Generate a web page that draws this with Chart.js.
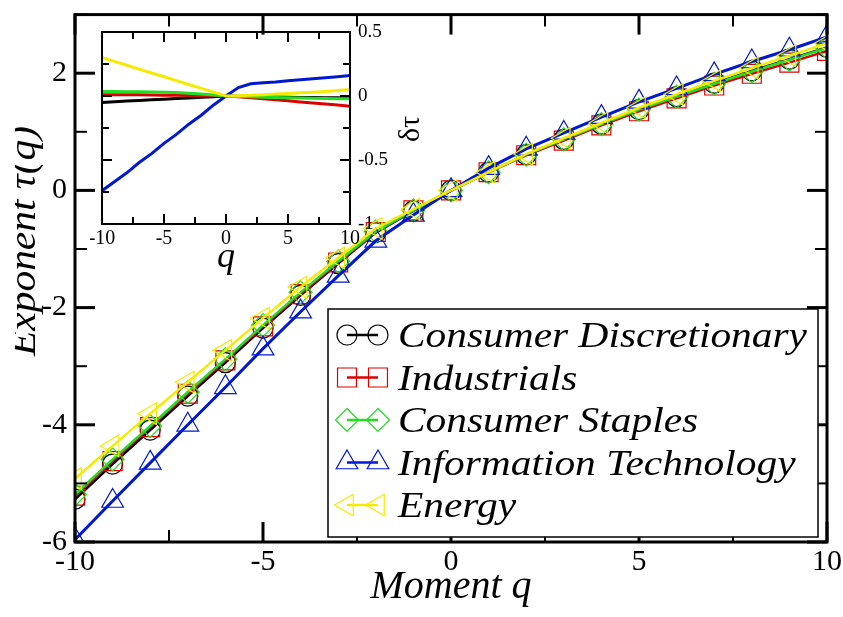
<!DOCTYPE html>
<html>
<head>
<meta charset="utf-8">
<title>Exponent tau(q)</title>
<script src="https://cdn.jsdelivr.net/npm/chart.js@4.4.1/dist/chart.umd.min.js"></script>
<style>
    body { margin: 0; background: #ffffff; }
    #wrap { position: relative; width: 843px; height: 617px; }
    #main { position: absolute; left: 0; top: 0; }
    #inset { position: absolute; left: 90px; top: 20px; }
</style>
</head>
<body>
<div id="wrap">
    <canvas id="main" width="843" height="617"></canvas>
    <canvas id="inset" width="345" height="270"></canvas>
</div>
<script>
// moments
var q = [-10, -9, -8, -7, -6, -5, -4, -3, -2, -1, 0, 1, 2, 3, 4, 5, 6, 7, 8, 9, 10];

var seriesNames = ['Consumer Discretionary', 'Industrials', 'Consumer Staples', 'Information Technology', 'Energy'];

// tau(q), main plot
var tauDiscretionary = [-5.27, -4.67, -4.09, -3.51, -2.94, -2.35, -1.79, -1.25, -0.72, -0.35, 0, 0.31, 0.61, 0.87, 1.13, 1.38, 1.60, 1.83, 2.04, 2.24, 2.44];
var tauIndustrials = [-5.21, -4.62, -4.04, -3.47, -2.90, -2.32, -1.77, -1.23, -0.71, -0.34, 0, 0.31, 0.60, 0.85, 1.11, 1.35, 1.57, 1.79, 1.99, 2.18, 2.38];
var tauStaples = [-5.19, -4.59, -4.02, -3.44, -2.88, -2.30, -1.74, -1.21, -0.70, -0.34, 0, 0.31, 0.61, 0.87, 1.13, 1.38, 1.60, 1.82, 2.03, 2.23, 2.43];
var tauInfoTech = [-5.96, -5.30, -4.65, -4.00, -3.36, -2.70, -2.07, -1.46, -0.86, -0.42, 0, 0.38, 0.71, 0.98, 1.25, 1.51, 1.74, 1.98, 2.20, 2.40, 2.62];
var tauEnergy = [-4.92, -4.36, -3.81, -3.27, -2.73, -2.18, -1.65, -1.15, -0.65, -0.32, 0, 0.31, 0.62, 0.89, 1.15, 1.41, 1.64, 1.87, 2.09, 2.30, 2.51];

// delta tau, inset
var dtDiscretionary = [-0.05, -0.045, -0.04, -0.035, -0.03, -0.025, -0.02, -0.015, -0.01, -0.005, 0, -0.002, -0.004, -0.006, -0.008, -0.01, -0.011, -0.012, -0.013, -0.014, -0.015];
var dtIndustrials = [0.01, 0.01, 0.01, 0.01, 0.008, 0.006, 0.005, 0.004, 0.003, 0.002, 0, -0.006, -0.014, -0.022, -0.03, -0.038, -0.046, -0.054, -0.062, -0.07, -0.08];
var dtStaples = [0.035, 0.035, 0.034, 0.033, 0.032, 0.03, 0.027, 0.022, 0.015, 0.008, 0, -0.003, -0.006, -0.009, -0.012, -0.014, -0.016, -0.018, -0.02, -0.021, -0.022];
var dtInfoTech = [-0.74, -0.67, -0.6, -0.52, -0.45, -0.37, -0.3, -0.22, -0.15, -0.07, 0, 0.066, 0.095, 0.103, 0.11, 0.12, 0.126, 0.134, 0.142, 0.15, 0.16];
var dtEnergy = [0.30, 0.27, 0.24, 0.21, 0.18, 0.15, 0.12, 0.09, 0.06, 0.03, 0, 0.002, 0.005, 0.01, 0.015, 0.02, 0.025, 0.03, 0.036, 0.043, 0.05];

// tick values
var mainXTicks = [-10, -5, 0, 5, 10];
var mainXMinor = [-7.5, -2.5, 2.5, 7.5];
var mainYTicks = [-6, -4, -2, 0, 2];
var mainYMinor = [-5, -3, -1, 1, 3];
var insetXTicks = [-10, -5, 0, 5, 10];
var insetXMinor = [-7.5, -2.5, 2.5, 7.5];
var insetYTicks = [-1, -0.5, 0, 0.5];
var insetYMinor = [-0.75, -0.25, 0.25];

var colors = ['#000000', '#dd0000', '#22dd22', '#0018d0', '#f4ec00'];
var markers = [
    { style: 'circle', radius: 10, rotation: 0 },
    { style: 'rect', radius: 13.4, rotation: 0 },
    { style: 'rectRot', radius: 11.5, rotation: 0 },
    { style: 'triangle', radius: 12.5, rotation: 0 },
    { style: 'triangle', radius: 12.5, rotation: -90 }
];

var SERIF = '"Liberation Serif", "Times New Roman", serif';

function toPoints(xs, ys) {
    var pts = [];
    for (var i = 0; i < xs.length; i++) {
        pts.push({ x: xs[i], y: ys[i] });
    }
    return pts;
}

function plainLabel(value) {
    return String(value);
}

function drawInnerTicks(ctx, area, xs, ys, ticks, majLen, minLen, majW, minW) {
    function seg(x1, y1, x2, y2, w) {
        ctx.lineWidth = w;
        ctx.beginPath();
        ctx.moveTo(x1, y1);
        ctx.lineTo(x2, y2);
        ctx.stroke();
    }
    function xTicks(vals, len, w) {
        vals.forEach(function (v) {
            var px = xs.getPixelForValue(v);
            seg(px, area.bottom, px, area.bottom - len, w);
            seg(px, area.top, px, area.top + len, w);
        });
    }
    function yTicks(vals, len, w) {
        vals.forEach(function (v) {
            var py = ys.getPixelForValue(v);
            seg(area.left, py, area.left + len, py, w);
            seg(area.right, py, area.right - len, py, w);
        });
    }
    xTicks(ticks.xMajor, majLen, majW);
    xTicks(ticks.xMinor, minLen, minW);
    yTicks(ticks.yMajor, majLen, majW);
    yTicks(ticks.yMinor, minLen, minW);
}

// small copy of the point shapes for the legend
function drawMarker(ctx, m, x, y) {
    var r = m.radius;
    ctx.beginPath();
    if (m.style === 'circle') {
        ctx.arc(x, y, r, 0, Math.PI * 2);
    } else if (m.style === 'rect') {
        var s = r * Math.SQRT1_2;
        ctx.rect(x - s, y - s, 2 * s, 2 * s);
    } else if (m.style === 'rectRot') {
        ctx.moveTo(x, y - r);
        ctx.lineTo(x + r, y);
        ctx.lineTo(x, y + r);
        ctx.lineTo(x - r, y);
        ctx.closePath();
    } else {
        var rad = m.rotation * Math.PI / 180;
        for (var k = 0; k < 3; k++) {
            var a = rad + k * 2 * Math.PI / 3;
            var px = x + Math.sin(a) * r, py = y - Math.cos(a) * r;
            if (k === 0) ctx.moveTo(px, py); else ctx.lineTo(px, py);
        }
        ctx.closePath();
    }
    ctx.stroke();
}

var mainDecor = {
    id: 'mainDecor',
    afterDatasetsDraw: function (chart) {
        var ctx = chart.ctx;
        var area = chart.chartArea;
        ctx.save();
        ctx.strokeStyle = '#000';
        drawInnerTicks(ctx, area, chart.scales.x, chart.scales.y,
            { xMajor: mainXTicks, xMinor: mainXMinor, yMajor: mainYTicks, yMinor: mainYMinor },
            20, 12, 3, 2);
        ctx.lineWidth = 3;
        ctx.strokeRect(area.left, area.top, area.right - area.left, area.bottom - area.top);

        // legend box
        ctx.fillStyle = '#fff';
        ctx.fillRect(328, 309, 490, 228);
        ctx.lineWidth = 1.5;
        ctx.strokeRect(328, 309, 490, 228);
        chart.data.datasets.forEach(function (ds, i) {
            var cy = 335 + i * 42.5;
            ctx.strokeStyle = ds.borderColor;
            ctx.lineWidth = 2.5;
            ctx.beginPath();
            ctx.moveTo(347, cy);
            ctx.lineTo(378, cy);
            ctx.stroke();
            ctx.lineWidth = 1.2;
            drawMarker(ctx, markers[i], 347, cy);
            drawMarker(ctx, markers[i], 378, cy);
            ctx.save();
            ctx.fillStyle = '#000';
            ctx.font = 'italic 36px ' + SERIF;
            ctx.textBaseline = 'alphabetic';
            ctx.translate(398, cy + 12);
            ctx.scale(1.15, 1);
            ctx.fillText(ds.label, 0, 0);
            ctx.restore();
        });

        // y title, cut at the left edge like the original figure
        ctx.save();
        ctx.fillStyle = '#000';
        ctx.font = 'italic 37px ' + SERIF;
        ctx.textAlign = 'center';
        ctx.textBaseline = 'alphabetic';
        ctx.translate(35, 241);
        ctx.rotate(-Math.PI / 2);
        ctx.scale(1.12, 1);
        ctx.fillText('Exponent \u03C4(q)', 0, 0);
        ctx.restore();
        ctx.fillStyle = '#fff';
        ctx.fillRect(0, 80, 15, 330);
        ctx.restore();
    }
};

var insetDecor = {
    id: 'insetDecor',
    afterDatasetsDraw: function (chart) {
        var ctx = chart.ctx;
        var area = chart.chartArea;
        ctx.save();
        ctx.strokeStyle = '#000';
        drawInnerTicks(ctx, area, chart.scales.x, chart.scales.y,
            { xMajor: insetXTicks, xMinor: insetXMinor, yMajor: insetYTicks, yMinor: insetYMinor },
            10, 7, 2, 2);
        ctx.lineWidth = 2;
        ctx.strokeRect(area.left, area.top, area.right - area.left, area.bottom - area.top);
        ctx.fillStyle = '#000';
        ctx.font = '30px ' + SERIF;
        ctx.textAlign = 'center';
        ctx.textBaseline = 'middle';
        ctx.translate(321, 109);
        ctx.rotate(-Math.PI / 2);
        ctx.fillText('\u03B4\u03C4', 0, 0);
        ctx.restore();
    }
};

function fixedWidth(w) {
    return function (s) { s.width = w; s.paddingTop = 0; s.paddingBottom = 0; };
}
function fixedHeight(h) {
    return function (s) { s.height = h; s.paddingLeft = 0; s.paddingRight = 0; };
}
function setTicks(vals) {
    return function (s) { s.ticks = vals.map(function (v) { return { value: v }; }); };
}

function createMainChart() {
    var ctx = document.getElementById('main').getContext('2d');
    var tauSeries = [tauDiscretionary, tauIndustrials, tauStaples, tauInfoTech, tauEnergy];
    var datasets = [];
    for (var i = 0; i < tauSeries.length; i++) {
        datasets.push({
            label: seriesNames[i],
            data: toPoints(q, tauSeries[i]),
            borderColor: colors[i],
            borderWidth: i === 3 ? 3 : 2.5,
            pointStyle: markers[i].style,
            pointRadius: markers[i].radius,
            pointRotation: markers[i].rotation,
            pointBorderColor: colors[i],
            pointBorderWidth: 1.2,
            pointBackgroundColor: 'rgba(0,0,0,0)',
            fill: false,
            tension: 0,
            order: tauSeries.length - i
        });
    }
    return new Chart(ctx, {
        type: 'line',
        data: { datasets: datasets },
        plugins: [mainDecor],
        options: {
            responsive: false,
            animation: false,
            layout: { padding: { left: 0, top: 14, right: 16, bottom: 0 } },
            plugins: { legend: { display: false }, tooltip: { enabled: false } },
            scales: {
                x: {
                    type: 'linear',
                    min: -10,
                    max: 10,
                    grid: { display: false, drawTicks: false },
                    border: { display: false },
                    ticks: { font: { family: SERIF, size: 30 }, color: '#000', padding: 2, maxRotation: 0, callback: plainLabel },
                    afterBuildTicks: setTicks(mainXTicks),
                    afterFit: fixedHeight(75),
                    title: {
                        display: true,
                        text: 'Moment q',
                        color: '#000',
                        font: { family: SERIF, size: 40, style: 'italic' },
                        padding: { top: 0, bottom: 6 }
                    }
                },
                y: {
                    min: -6,
                    max: 3,
                    grid: { display: false, drawTicks: false },
                    border: { display: false },
                    ticks: { font: { family: SERIF, size: 30 }, color: '#000', padding: 8, callback: plainLabel },
                    afterBuildTicks: setTicks(mainYTicks),
                    afterFit: fixedWidth(75)
                }
            }
        }
    });
}

function createInsetChart() {
    var ctx = document.getElementById('inset').getContext('2d');
    var dtSeries = [dtDiscretionary, dtIndustrials, dtStaples, dtInfoTech, dtEnergy];
    var datasets = [];
    for (var i = 0; i < dtSeries.length; i++) {
        datasets.push({
            label: seriesNames[i],
            data: toPoints(q, dtSeries[i]),
            borderColor: colors[i],
            borderWidth: 3,
            pointRadius: 0,
            fill: false,
            tension: 0,
            order: dtSeries.length - i
        });
    }
    return new Chart(ctx, {
        type: 'line',
        data: { datasets: datasets },
        plugins: [insetDecor],
        options: {
            responsive: false,
            animation: false,
            layout: { padding: { left: 12, top: 12, right: 0, bottom: 0 } },
            plugins: { legend: { display: false }, tooltip: { enabled: false } },
            scales: {
                x: {
                    type: 'linear',
                    min: -10,
                    max: 10,
                    grid: { display: false, drawTicks: false },
                    border: { display: false },
                    ticks: { font: { family: SERIF, size: 20 }, color: '#000', padding: 3, maxRotation: 0, callback: plainLabel },
                    afterBuildTicks: setTicks(insetXTicks),
                    afterFit: fixedHeight(66),
                    title: {
                        display: true,
                        text: 'q',
                        color: '#000',
                        font: { family: SERIF, size: 36, style: 'italic' },
                        padding: { top: 0, bottom: 11 }
                    }
                },
                y: {
                    position: 'right',
                    min: -1,
                    max: 0.5,
                    grid: { display: false, drawTicks: false },
                    border: { display: false },
                    ticks: { font: { family: SERIF, size: 19 }, color: '#000', padding: 8, callback: plainLabel },
                    afterBuildTicks: setTicks(insetYTicks),
                    afterFit: fixedWidth(85)
                }
            }
        }
    });
}

createMainChart();
createInsetChart();
</script>
</body>
</html>
